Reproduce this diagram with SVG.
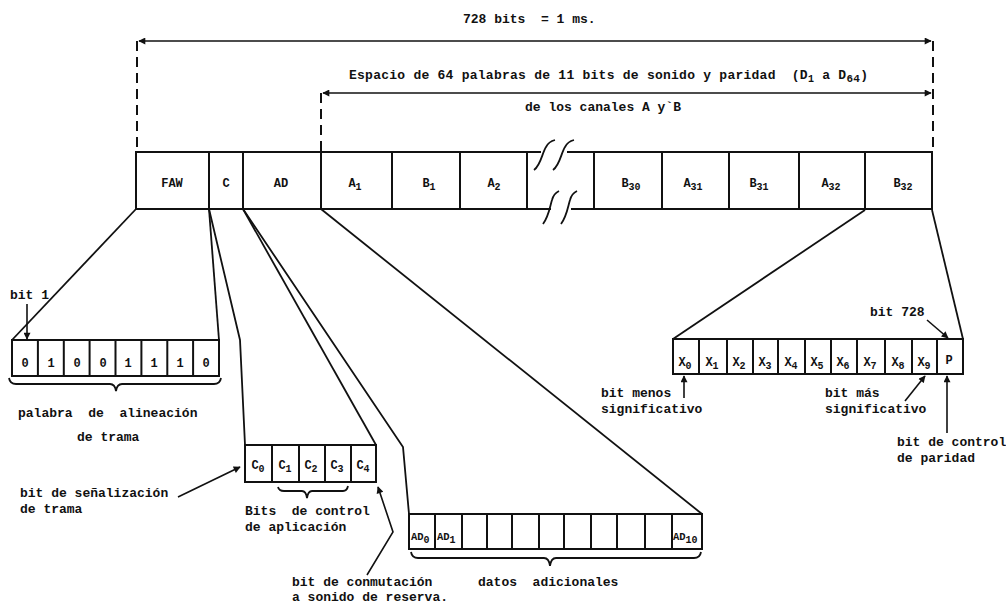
<svg xmlns="http://www.w3.org/2000/svg" width="1006" height="603" viewBox="0 0 1006 603" xml:space="preserve">
<defs>
<marker id="ah" viewBox="0 0 10 10" refX="9" refY="5" markerWidth="9" markerHeight="7" markerUnits="userSpaceOnUse" orient="auto-start-reverse">
<path d="M0,0 L10,5 L0,10 z" fill="#111"/>
</marker>
<style>
text{font-family:"Liberation Mono","DejaVu Sans Mono",monospace;fill:#111;font-size:13px;font-weight:bold;white-space:pre}
.c{text-anchor:middle;font-size:12px}
.s{font-size:10px}
.box{fill:none;stroke:#111;stroke-width:2}
.ln{fill:none;stroke:#111;stroke-width:1.8}
.ar{fill:none;stroke:#111;stroke-width:1.6;marker-end:url(#ah)}
.dash{fill:none;stroke:#111;stroke-width:2;stroke-dasharray:10,6}
</style>
</defs>
<rect width="1006" height="603" fill="#fff"/>
<g id="dimensions">
<line class="dash" x1="137" y1="41" x2="137" y2="152"/>
<line class="dash" x1="933" y1="41" x2="933" y2="152"/>
<line class="dash" x1="321" y1="93" x2="321" y2="152"/>
<line x1="139" y1="41" x2="931" y2="41" stroke="#111" stroke-width="1.6" marker-start="url(#ah)" marker-end="url(#ah)"/>
<line x1="323" y1="93" x2="931" y2="93" stroke="#111" stroke-width="1.6" marker-start="url(#ah)" marker-end="url(#ah)"/>
<text x="463" y="23">728 bits  = 1 ms.</text>
<text x="349" y="79" style="letter-spacing:0.25px">Espacio de 64 palabras de 11 bits de sonido y paridad  (D<tspan class="s" dy="3">1</tspan><tspan dy="-3"> a D</tspan><tspan class="s" dy="3" style="font-size:11px">64</tspan><tspan dy="-3">)</tspan></text>
<text x="525" y="111">de los canales A y`B</text>
</g>
<g id="frame">
<rect class="box" x="136" y="152" width="73" height="57"/>
<rect class="box" x="209" y="152" width="34" height="57"/>
<rect class="box" x="243" y="152" width="78" height="57"/>
<rect class="box" x="321" y="152" width="71" height="57"/>
<rect class="box" x="392" y="152" width="68" height="57"/>
<line class="box" x1="460" y1="152" x2="460" y2="209"/>
<line class="box" x1="527" y1="152" x2="527" y2="209"/>
<line class="box" x1="460" y1="152" x2="541" y2="152"/>
<line class="box" x1="460" y1="209" x2="551" y2="209"/>
<line class="box" x1="567" y1="152" x2="594" y2="152"/>
<line class="box" x1="571" y1="209" x2="594" y2="209"/>
<path class="ln" d="M534,170 C541,165 542,153 546,147 C548,143 551,141 555,140"/>
<path class="ln" d="M553,170 C560,165 561,153 565,147 C567,143 570,141 574,140"/>
<path class="ln" d="M543,224 C549,216 550,206 552,200 C553,196 555,193 559,191"/>
<path class="ln" d="M561,224 C567,216 568,206 570,200 C571,196 573,193 577,191"/>
<rect class="box" x="594" y="152" width="68" height="57"/>
<rect class="box" x="662" y="152" width="67" height="57"/>
<rect class="box" x="729" y="152" width="70" height="57"/>
<rect class="box" x="799" y="152" width="66" height="57"/>
<rect class="box" x="865" y="152" width="67" height="57"/>
<text class="c" x="172" y="187">FAW</text>
<text class="c" x="226" y="187">C</text>
<text class="c" x="281" y="187">AD</text>
<text class="c" x="355" y="187">A<tspan class="s" dy="3">1</tspan></text>
<text class="c" x="429" y="187">B<tspan class="s" dy="3">1</tspan></text>
<text class="c" x="494" y="187">A<tspan class="s" dy="3">2</tspan></text>
<text class="c" x="631" y="187">B<tspan class="s" dy="3">30</tspan></text>
<text class="c" x="693" y="187">A<tspan class="s" dy="3">31</tspan></text>
<text class="c" x="759" y="187">B<tspan class="s" dy="3">31</tspan></text>
<text class="c" x="831" y="187">A<tspan class="s" dy="3">32</tspan></text>
<text class="c" x="903" y="187">B<tspan class="s" dy="3">32</tspan></text>
</g>
<g id="faw-word">
<rect class="box" x="12" y="340" width="207" height="36"/>
<path class="box" d="M37.9,340V376M63.8,340V376M89.6,340V376M115.5,340V376M141.4,340V376M167.3,340V376M193.1,340V376"/>
<text class="c" x="25" y="367">0</text>
<text class="c" x="51" y="367">1</text>
<text class="c" x="77" y="367">0</text>
<text class="c" x="103" y="367">0</text>
<text class="c" x="128" y="367">1</text>
<text class="c" x="154" y="367">1</text>
<text class="c" x="180" y="367">1</text>
<text class="c" x="206" y="367">0</text>
<path class="ln" d="M9,378 Q10,384 16,384 L110,384 Q115,384 116,391 Q117,384 122,384 L214,384 Q220,384 221,378"/>
<text x="18" y="417">palabra  de  alineación</text>
<text x="77" y="441">de trama</text>
<text x="10" y="299">bit 1</text>
</g>
<g id="c-bits">
<rect class="box" x="245" y="445" width="131" height="37"/>
<path class="box" d="M272,445V482M299,445V482M325,445V482M351,445V482"/>
<text class="c" x="258" y="469">C<tspan class="s" dy="3">0</tspan></text>
<text class="c" x="285" y="469">C<tspan class="s" dy="3">1</tspan></text>
<text class="c" x="311" y="469">C<tspan class="s" dy="3">2</tspan></text>
<text class="c" x="337" y="469">C<tspan class="s" dy="3">3</tspan></text>
<text class="c" x="363" y="469">C<tspan class="s" dy="3">4</tspan></text>
<path class="ln" d="M278,487 Q279,491 284,491 L302,491 Q306,491 307,498 Q308,491 312,491 L343,491 Q347,491 348,486"/>
<text x="245" y="515">Bits  de control</text>
<text x="245" y="531">de aplicación</text>
<text x="20" y="497">bit de señalización</text>
<text x="20" y="513">de trama</text>
<text x="292" y="586">bit de conmutación</text>
<text x="292" y="601">a sonido de reserva.</text>
</g>
<g id="ad-bits">
<rect class="box" x="409" y="514" width="293" height="35"/>
<path class="box" d="M435,514V549M462,514V549M487,514V549M512,514V549M539,514V549M564,514V549M591,514V549M617,514V549M645,514V549M672,514V549"/>
<text x="411" y="540" style="font-size:10.5px">AD<tspan class="s" dy="3">0</tspan></text>
<text x="437" y="540" style="font-size:10.5px">AD<tspan class="s" dy="3">1</tspan></text>
<text x="673" y="540" style="font-size:10.5px">AD<tspan class="s" dy="3">10</tspan></text>
<path class="ln" d="M411,552 Q412,558 418,558 L544,558 Q549,558 550,566 Q551,558 556,558 L694,558 Q700,558 701,552"/>
<text x="478" y="586">datos  adicionales</text>
</g>
<g id="x-bits">
<rect class="box" x="673" y="339" width="290" height="35"/>
<path class="box" d="M699,339V374M727,339V374M753,339V374M778,339V374M805,339V374M831,339V374M857,339V374M885,339V374M912,339V374M937,339V374"/>
<text class="c" x="685" y="366">X<tspan class="s" dy="3">0</tspan></text>
<text class="c" x="712" y="366">X<tspan class="s" dy="3">1</tspan></text>
<text class="c" x="739" y="366">X<tspan class="s" dy="3">2</tspan></text>
<text class="c" x="765" y="366">X<tspan class="s" dy="3">3</tspan></text>
<text class="c" x="791" y="366">X<tspan class="s" dy="3">4</tspan></text>
<text class="c" x="817" y="366">X<tspan class="s" dy="3">5</tspan></text>
<text class="c" x="843" y="366">X<tspan class="s" dy="3">6</tspan></text>
<text class="c" x="870" y="366">X<tspan class="s" dy="3">7</tspan></text>
<text class="c" x="898" y="366">X<tspan class="s" dy="3">8</tspan></text>
<text class="c" x="924" y="366">X<tspan class="s" dy="3">9</tspan></text>
<text class="c" x="949" y="364">P</text>
<text x="870" y="316">bit 728</text>
<text x="601" y="397">bit menos</text>
<text x="601" y="413">significativo</text>
<text x="825" y="397">bit más</text>
<text x="825" y="413">significativo</text>
<text x="897" y="446">bit de control</text>
<text x="897" y="462">de paridad</text>
</g>
<g id="connectors">
<polyline class="ln" points="136,209 12,340"/>
<polyline class="ln" points="209,209 219,340"/>
<polyline class="ln" points="209,209 240,340 245,445"/>
<polyline class="ln" points="243,209 376,445"/>
<polyline class="ln" points="243,209 403,447 409,514"/>
<polyline class="ln" points="321,209 702,514"/>
<polyline class="ln" points="865,210 673,339"/>
<polyline class="ln" points="932,210 963,339"/>
<line class="ar" x1="27" y1="304" x2="27" y2="339"/>
<line class="ar" x1="178" y1="497" x2="240" y2="467"/>
<polyline class="ar" points="367,575 393,532 378,487"/>
<line class="ar" x1="927" y1="320" x2="948" y2="338"/>
<line class="ar" x1="684" y1="398" x2="684" y2="376"/>
<line class="ar" x1="905" y1="401" x2="925" y2="376"/>
<line class="ar" x1="947" y1="433" x2="947" y2="376"/>
</g>
</svg>
